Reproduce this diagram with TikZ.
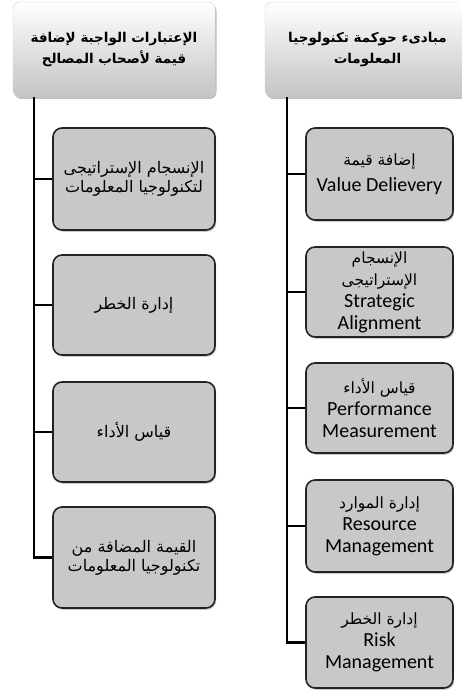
\documentclass[tikz,border=0pt]{standalone}
\usepackage{fontspec}
\setmainfont{Carlito}
\newfontfamily\arabicfont[Script=Arabic]{DejaVu Sans}
\TeXXeTstate=1
\usetikzlibrary{shadows}
\definecolor{itemgray}{RGB}{200,200,200}
\definecolor{headgray}{RGB}{196,196,196}
\definecolor{edgegray}{RGB}{35,35,35}

% one right-to-left line of Arabic
\newcommand{\artxt}[1]{{\arabicfont\beginR #1\endR}}
\newcommand{\arsmall}[1]{{\fontsize{15.5}{18}\selectfont\arabicfont\beginR #1\endR}}

\tikzset{
  headbox/.style={draw=gray!35, rounded corners=7pt, top color=white, bottom color=headgray,
    drop shadow={shadow xshift=1.5pt, shadow yshift=-2pt, opacity=0.5},
    align=center, font=\bfseries\fontsize{13.5}{21}\selectfont},
  itembox/.style={draw=edgegray, line width=1.6pt, rounded corners=9pt, fill=itemgray,
    drop shadow={shadow xshift=1.2pt, shadow yshift=-1.8pt, opacity=0.4},
    align=center, inner sep=1pt},
  leftitem/.style={itembox, minimum width=162pt, font=\fontsize{16}{19}\selectfont},
  rightitem/.style={itembox, minimum width=147pt, font=\fontsize{20}{22}\selectfont},
  link/.style={line width=2.8pt, black}
}

\begin{document}
\begin{tikzpicture}[x=1pt, y=-1pt]
  \useasboundingbox[fill=white] (0,0) rectangle (461,692);

  % left column
  \node[headbox, minimum width=202pt, minimum height=95pt] (lhead) at (114,49.5)
    {\artxt{الإعتبارات الواجبة لإضافة}\\ \artxt{قيمة لأصحاب المصالح}};
  \coordinate (ltrunk) at (34,0);

  \node[leftitem, minimum height=102pt] (l1) at (134,179)
    {\artxt{الإنسجام الإستراتيجى}\\ \artxt{لتكنولوجيا المعلومات}};
  \node[leftitem, minimum height=100pt] (l2) at (134,305) {\artxt{إدارة الخطر}};
  \node[leftitem, minimum height=100pt] (l3) at (134,432) {\artxt{قياس الأداء}};
  \node[leftitem, minimum height=101pt] (l4) at (134,557.5)
    {\artxt{القيمة المضافة من}\\ \artxt{تكنولوجيا المعلومات}};

  % right column
  \node[headbox, minimum width=205pt, minimum height=95pt] (rhead) at (367.5,49.5)
    {\artxt{مبادىء حوكمة تكنولوجيا}\\ \artxt{المعلومات}};
  \coordinate (rtrunk) at (287,0);

  \node[rightitem, minimum height=92pt] (r1) at (379.5,174)
    {\arsmall{إضافة قيمة}\\[4pt] Value Delievery};
  \node[rightitem, minimum height=90pt] (r2) at (379.5,292)
    {\arsmall{الإنسجام}\\ \arsmall{الإستراتيجى}\\ Strategic\\ Alignment};
  \node[rightitem, minimum height=90pt] (r3) at (379.5,408)
    {\arsmall{قياس الأداء}\\ Performance\\ Measurement};
  \node[rightitem, minimum height=92pt] (r4) at (379.5,526)
    {\arsmall{إدارة الموارد}\\ Resource\\ Management};
  \node[rightitem, minimum height=91pt] (r5) at (379.5,642.5)
    {\arsmall{إدارة الخطر}\\ Risk\\ Management};

  % connectors
  \foreach \n in {l1,l2,l3,l4}
    \draw[link] (lhead.south -| ltrunk) |- (\n.west);
  \foreach \n in {r1,r2,r3,r4,r5}
    \draw[link] (rhead.south -| rtrunk) |- (\n.west);
\end{tikzpicture}
\end{document}
